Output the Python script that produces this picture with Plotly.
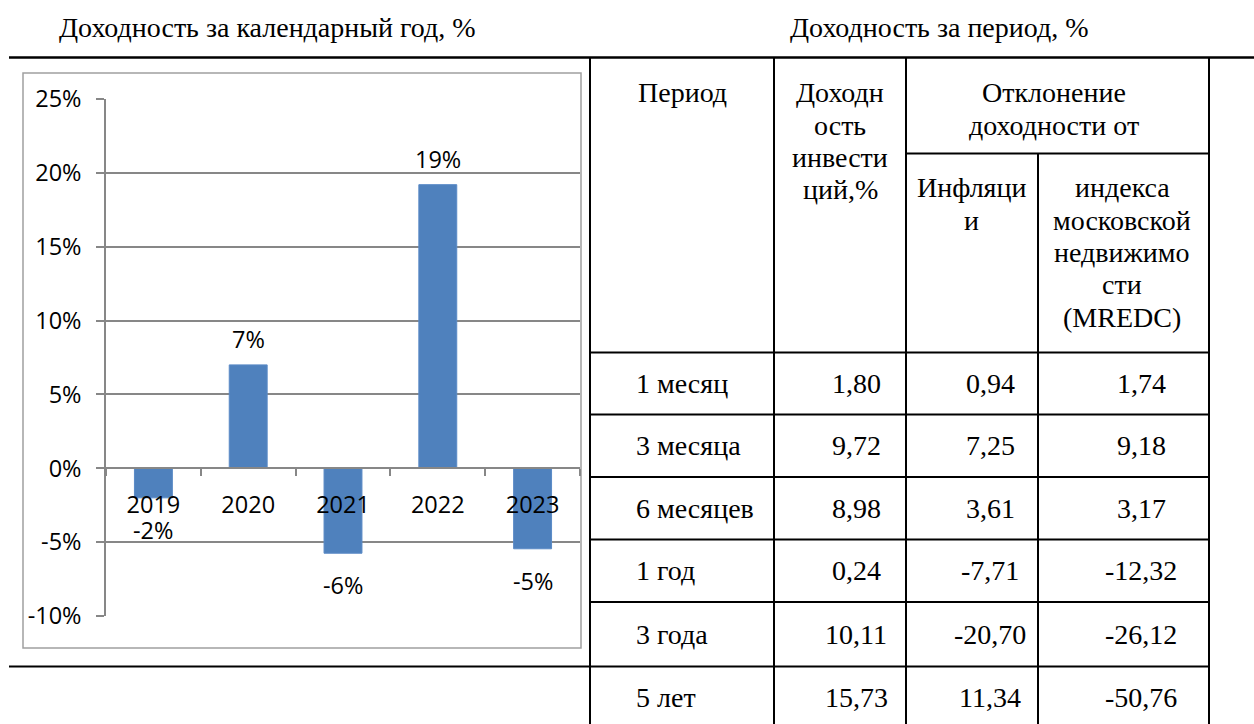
import plotly.graph_objects as go

# ---------------- data ----------------
years = ["2019", "2020", "2021", "2022", "2023"]
annual_returns = [-2.0, 7.0, -5.75, 19.2, -5.45]
y_ticks = [-10, -5, 0, 5, 10, 15, 20, 25]

chart_title = "Доходность за календарный год, %"
table_title = "Доходность за период, %"

periods = ["1 месяц", "3 месяца", "6 месяцев", "1 год", "3 года", "5 лет"]
investment_returns = [1.80, 9.72, 8.98, 0.24, 10.11, 15.73]
inflation_deviation = [0.94, 7.25, 3.61, -7.71, -20.70, 11.34]
mredc_deviation = [1.74, 9.18, 3.17, -12.32, -26.12, -50.76]

header_period = ["Период"]
header_return = ["Доходн", "ость", "инвести", "ций,%"]
header_deviation = ["Отклонение", "доходности от"]
header_inflation = ["Инфляци", "и"]
header_mredc = ["индекса", "московской", "недвижимо", "сти", "(MREDC)"]

# ---------------- geometry (pixels) ----------------
W, H = 1254, 724
PL, PR, PT, PB = 106, 580, 99, 616


def px(x):
    return (x - PL) / (PR - PL)


def py(y):
    return (PB - y) / (PB - PT)


SERIF = "Liberation Serif, Times New Roman, serif"
SANS = "Open Sans, Calibri, sans-serif"
TFS = 28
CFS = 23.5

fig = go.Figure()
fig.add_trace(go.Bar(
    x=years, y=annual_returns, width=0.4,
    marker=dict(color="#4F81BD", line=dict(color="#5A8AC6", width=1)),
    hoverinfo="skip",
))

annotations = []
# data labels
for i, v in enumerate(annual_returns):
    annotations.append(dict(
        x=i, y=v, xref="x", yref="y", text=f"{round(v):.0f}%", showarrow=False,
        font=dict(family=SANS, size=CFS, color="#000"), yanchor="middle",
        yshift=26 if v >= 0 else -32,
    ))


def txt(x, y, s, anchor="center", size=TFS):
    annotations.append(dict(
        x=px(x), y=py(y), xref="paper", yref="paper", text=s, showarrow=False,
        xanchor=anchor, yanchor="middle", font=dict(family=SERIF, size=size, color="#000"),
    ))


# titles
txt(57, 27.5, chart_title, "left")
txt(788, 27.5, table_title, "left")

# table headers (baseline based)
LS = 32.3
SH = 0.3375 * TFS


def lines(xc, base, items):
    for i, s in enumerate(items):
        txt(xc, base + i * LS - SH, s)


lines(682.5, 102.3, header_period)
lines(840, 102.3, header_return)
lines(1054, 102.3, header_deviation)
lines(971.5, 197.3, header_inflation)
lines(1122, 197.3, header_mredc)

row_lines = [352.5, 414.5, 477, 539.5, 602, 666.5, 728]


def fmt(v):
    return f"{v:.2f}".replace(".", ",")


for i, p in enumerate(periods):
    yc = (row_lines[i] + row_lines[i + 1]) / 2
    txt(634, yc, p, "left")
    txt(856, yc, fmt(investment_returns[i]))
    txt(990, yc, fmt(inflation_deviation[i]))
    txt(1141, yc, fmt(mredc_deviation[i]))

shapes = []


def hline(x0, x1, y, w=2):
    shapes.append(dict(type="line", xref="paper", yref="paper", x0=px(x0), x1=px(x1),
                       y0=py(y), y1=py(y), line=dict(color="#000", width=w)))


def vline(x, y0, y1, w=2):
    shapes.append(dict(type="line", xref="paper", yref="paper", x0=px(x), x1=px(x),
                       y0=py(y0), y1=py(y1), line=dict(color="#000", width=w)))


hline(9, 1254, 57.5, 2.5)
hline(9, 590, 666.5)
hline(906, 1209, 153.5)
for yl in row_lines[:-1]:
    hline(590, 1209, yl)
vline(590, 57.5, 724)
vline(774, 57.5, 724)
vline(906, 57.5, 724)
vline(1038, 153.5, 724)
vline(1209, 57.5, 724)

# chart outer box
shapes.append(dict(type="rect", xref="paper", yref="paper", x0=px(23), x1=px(581),
                   y0=py(648), y1=py(73), line=dict(color="#A0A0A0", width=1.5),
                   fillcolor="rgba(0,0,0,0)", layer="below"))

fig.update_layout(
    width=W, height=H,
    margin=dict(l=PL, r=W - PR, t=PT, b=H - PB, pad=0),
    paper_bgcolor="white", plot_bgcolor="white",
    showlegend=False,
    annotations=annotations, shapes=shapes,
    xaxis=dict(
        type="category", anchor="free", position=10 / 35, range=[-0.5, 4.5],
        showline=True, linecolor="#878787", linewidth=1.5,
        ticks="outside", tickson="boundaries", ticklen=7, tickcolor="#878787", tickwidth=1.5,
        showgrid=False, zeroline=False,
        tickfont=dict(family=SANS, size=CFS, color="#000"),
        ticklabelstandoff=16,
    ),
    yaxis=dict(
        range=[-10, 25], tickmode="array", tickvals=y_ticks,
        ticktext=[f"{v}%" for v in y_ticks], domain=[0, 1],
        showline=True, linecolor="#878787", linewidth=1.5,
        ticks="outside", ticklen=8, tickcolor="#878787", tickwidth=1.5,
        showgrid=True, gridcolor="#878787", gridwidth=1.5, zeroline=False,
        tickfont=dict(family=SANS, size=CFS, color="#000"),
        ticklabelstandoff=10,
    ),
)

fig.write_html("out.html", config={"displayModeBar": False},
               post_script="document.body.style.margin='0';document.body.style.overflow='hidden';")
